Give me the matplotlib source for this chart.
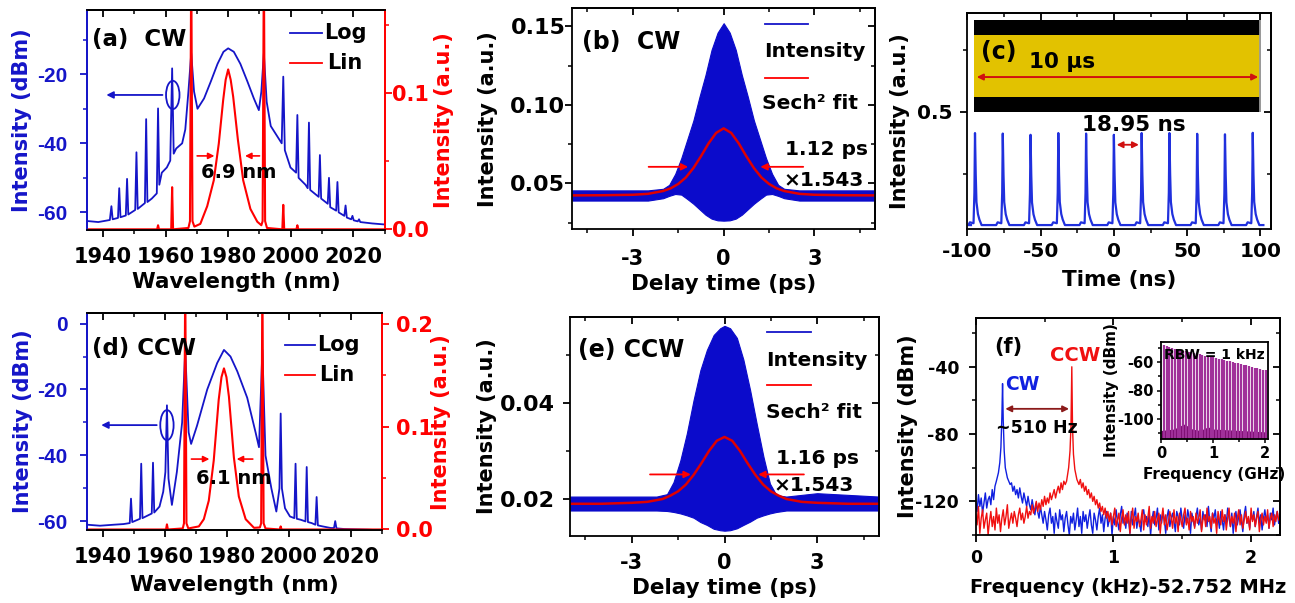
import numpy as np
import matplotlib.pyplot as plt
from matplotlib.patches import Ellipse
from matplotlib.ticker import MultipleLocator

# ---------------- data ----------------
# (a) CW optical spectrum: log trace (dBm) and linear trace (a.u.)
a_log = [(1935.0, -62.5), (1938.5, -62.8), (1942.2, -62.2), (1942.7, -58.2), (1943.1, -62.0),
         (1944.8, -61.6), (1945.2, -53.0), (1945.6, -61.4), (1947.3, -60.9), (1947.7, -50.3),
         (1948.1, -60.6), (1950.3, -59.3), (1950.7, -42.6), (1951.1, -59.0), (1953.4, -57.3),
         (1953.8, -33.0), (1954.2, -57.0), (1955.6, -56.0), (1957.2, -54.5), (1957.6, -29.9),
         (1958.0, -52.0), (1958.8, -48.5), (1960.4, -47.0), (1961.5, -45.0), (1962.1, -18.3),
         (1962.6, -43.0), (1963.4, -41.5), (1965.3, -40.0), (1966.3, -36.0), (1967.3, -25.0),
         (1968.2, -14.0), (1969.1, -25.0), (1970.2, -30.0), (1972.3, -27.0), (1974.5, -22.0),
         (1976.6, -17.0), (1978.5, -13.5), (1980.0, -12.5), (1981.8, -13.5), (1983.9, -17.0),
         (1986.1, -22.0), (1988.2, -27.0), (1989.8, -30.4), (1990.6, -25.0), (1991.4, -14.0),
         (1992.3, -28.0), (1993.6, -35.0), (1995.7, -38.0), (1997.1, -40.0), (1997.6, -20.7),
         (1998.1, -42.0), (1999.9, -47.0), (2001.7, -48.5), (2002.1, -31.8), (2002.5, -50.0),
         (2004.7, -52.0), (2005.4, -53.0), (2005.8, -34.0), (2006.2, -53.5), (2008.9, -55.5),
         (2009.3, -43.4), (2009.7, -56.0), (2011.8, -57.5), (2012.2, -50.0), (2012.6, -58.5),
         (2014.5, -59.5), (2014.9, -51.2), (2015.3, -60.0), (2017.1, -61.0), (2017.5, -58.0),
         (2017.9, -61.5), (2019.3, -62.0), (2019.7, -61.0), (2020.1, -62.3), (2021.4, -62.6),
         (2021.8, -62.0), (2022.2, -62.8), (2026.0, -63.2), (2030.0, -63.5)]
a_lin = [(1935.0, 0.0), (1957.3, 0.0), (1957.6, 0.003), (1957.9, 0.0), (1961.8, 0.0),
         (1962.1, 0.031), (1962.4, 0.0), (1967.3, 0.001), (1967.8, 0.006), (1968.2, 0.2),
         (1968.6, 0.006), (1969.2, 0.002), (1971.1, 0.004), (1973.3, 0.017), (1975.4, 0.036),
         (1977.0, 0.063), (1978.4, 0.095), (1979.2, 0.110), (1980.0, 0.1176), (1980.8, 0.110),
         (1981.6, 0.0975), (1983.1, 0.066), (1984.8, 0.036), (1987.1, 0.015), (1989.3, 0.0056),
         (1990.6, 0.003), (1991.0, 0.006), (1991.4, 0.2), (1991.8, 0.006), (1992.4, 0.001),
         (1997.3, 0.0), (1997.6, 0.018), (1997.9, 0.0), (2001.8, 0.0), (2002.1, 0.003),
         (2002.4, 0.0), (2030.0, 0.0)]

# (d) CCW optical spectrum
d_log = [(1935.0, -61.0), (1939.1, -61.3), (1943.5, -61.0), (1946.7, -60.8), (1948.7, -60.5),
         (1949.1, -53.1), (1949.5, -60.2), (1952.0, -59.2), (1952.4, -42.5), (1952.8, -59.0),
         (1955.8, -57.6), (1956.2, -42.2), (1956.6, -57.3), (1958.3, -55.5), (1959.5, -51.0),
         (1960.2, -45.0), (1960.7, -24.8), (1961.2, -47.0), (1962.3, -55.0), (1963.9, -45.0),
         (1965.6, -30.0), (1966.6, -8.0), (1967.7, -33.0), (1968.5, -36.5), (1970.4, -31.0),
         (1973.7, -20.0), (1976.9, -12.0), (1979.1, -8.0), (1981.2, -10.0), (1983.4, -14.5),
         (1986.6, -22.5), (1989.3, -33.0), (1990.4, -37.5), (1991.5, -8.0), (1992.5, -40.0),
         (1994.4, -50.0), (1996.0, -57.0), (1997.0, -50.0), (1997.4, -27.3), (1997.8, -50.0),
         (1998.8, -56.0), (2000.4, -58.5), (2001.8, -59.0), (2002.2, -42.5), (2002.6, -59.2),
         (2003.9, -59.5), (2005.4, -60.0), (2005.8, -43.5), (2006.2, -60.2), (2007.4, -60.5),
         (2008.6, -61.0), (2009.0, -52.6), (2009.4, -61.2), (2010.9, -61.5), (2013.6, -62.0),
         (2014.6, -62.0), (2015.0, -59.9), (2015.4, -62.1), (2017.9, -62.3), (2025.4, -62.5),
         (2030.0, -62.7)]
d_lin = [(1935.0, 0.0), (1960.4, 0.0), (1960.7, 0.005), (1961.0, 0.0), (1965.8, 0.001),
         (1966.2, 0.006), (1966.6, 0.25), (1967.0, 0.006), (1967.6, 0.001), (1971.0, 0.003),
         (1972.6, 0.010), (1974.2, 0.028), (1975.8, 0.067), (1977.4, 0.126), (1978.3, 0.148),
         (1979.1, 0.1565), (1979.9, 0.148), (1980.7, 0.129), (1982.3, 0.070), (1983.9, 0.032),
         (1986.1, 0.010), (1988.8, 0.0016), (1990.7, 0.002), (1991.1, 0.006), (1991.5, 0.25),
         (1991.9, 0.006), (1992.5, 0.001), (1997.1, 0.0), (1997.4, 0.003), (1997.7, 0.0),
         (2030.0, 0.0)]

# (b) CW autocorrelation: fringe envelope + sech^2 fit
b_t = [-5, -2.5, -2.0, -1.8, -1.6, -1.4, -1.2, -1.0, -0.8, -0.6, -0.4, -0.2, 0,
       0.2, 0.4, 0.6, 0.8, 1.0, 1.2, 1.4, 1.6, 1.8, 2.0, 2.5, 5]
b_upper = [0.0455, 0.0455, 0.0465, 0.049, 0.056, 0.066, 0.078, 0.090, 0.105, 0.119, 0.135, 0.146, 0.152,
           0.146, 0.135, 0.119, 0.105, 0.090, 0.078, 0.066, 0.056, 0.049, 0.0465, 0.0455, 0.0455]
b_lower = [0.039, 0.039, 0.0405, 0.042, 0.0432, 0.0428, 0.040, 0.037, 0.0335, 0.030, 0.0275, 0.0264, 0.0262,
           0.0264, 0.0275, 0.030, 0.0335, 0.037, 0.040, 0.0428, 0.0432, 0.042, 0.0405, 0.039, 0.039]
b_fit_t = [-5, -4, -3, -2.5, -2, -1.75, -1.5, -1.25, -1, -0.75, -0.5, -0.25, 0,
           0.25, 0.5, 0.75, 1, 1.25, 1.5, 1.75, 2, 2.5, 3, 4, 5]
b_fit = [0.0423, 0.0424, 0.0427, 0.0433, 0.0451, 0.0468, 0.0496, 0.0537, 0.0597, 0.0672, 0.0754, 0.0821, 0.0850,
         0.0821, 0.0754, 0.0672, 0.0597, 0.0537, 0.0496, 0.0468, 0.0451, 0.0433, 0.0427, 0.0424, 0.0423]

# (e) CCW autocorrelation
e_t = [-5, -2.2, -1.86, -1.65, -1.43, -1.22, -1.0, -0.78, -0.57, -0.35, -0.14, 0,
       0.18, 0.4, 0.61, 0.83, 1.04, 1.26, 1.47, 1.68, 2.0, 3.0, 5]
e_upper = [0.0205, 0.0205, 0.021, 0.0235, 0.028, 0.0336, 0.0406, 0.0468, 0.051, 0.0541, 0.0555, 0.056,
           0.0555, 0.0535, 0.049, 0.0426, 0.0357, 0.0288, 0.0232, 0.0208, 0.0205, 0.0212, 0.0205]
e_lower = [0.0176, 0.0176, 0.0175, 0.0173, 0.0170, 0.0166, 0.0161, 0.0152, 0.0146, 0.0138, 0.0135, 0.0134,
           0.0135, 0.0139, 0.0146, 0.0153, 0.0161, 0.0166, 0.0170, 0.0173, 0.0176, 0.0176, 0.0176]
e_fit_t = b_fit_t
e_fit = [0.0190, 0.0190, 0.0192, 0.0194, 0.0200, 0.0207, 0.0216, 0.0230, 0.0250, 0.0274, 0.0300, 0.0321, 0.0329,
         0.0321, 0.0300, 0.0274, 0.0250, 0.0230, 0.0216, 0.0207, 0.0200, 0.0194, 0.0192, 0.0190, 0.0190]

# (c) pulse train
c_pulse_t = [-94.75, -75.8, -56.85, -37.9, -18.95, 0.0, 18.95, 37.9, 56.85, 75.8, 94.75]
c_pulse_peak = [0.415, 0.413, 0.408, 0.415, 0.413, 0.408, 0.415, 0.415, 0.412, 0.410, 0.416]
c_base = 0.045
c_shape_dt = [-4.5, -3.5, -1.0, -0.4, 0.0, 0.5, 1.0, 2.0, 3.0, 4.5]
c_shape_lvl = [0.0, 0.03, 0.02, 0.35, 1.0, 0.55, 0.25, 0.12, 0.06, 0.0]
c_span = (-97.5, 102.0)

# (f) RF spectra, kHz offset from 52.752 MHz, sampled every 10 Hz
f_grid = np.round(np.arange(0, 2.2001, 0.01), 2)
cw_floor = [-120, -126, -116, -123, -118, -127, -121, -115, -124, -119,
            -117, -122, -113, -119, -111, -108, -104, -100, -95, -90,
            -95, -100, -104, -108, -110, -112, -109, -114, -111, -116,
            -113, -118, -112, -117, -121, -115, -119, -123, -117, -122,
            -125, -119, -124, -128, -121, -126, -130, -123, -128, -133,
            -126, -131, -137, -128, -124, -133, -129, -139, -127, -132,
            -136, -125, -131, -128, -138, -130, -126, -134, -140, -129,
            -133, -127, -137, -131, -124, -135, -129, -139, -126, -132,
            -128, -136, -130, -125, -134, -139, -127, -131, -137, -129,
            -124, -133, -128, -138, -130, -126, -135, -131, -127, -140,
            -129, -134, -125, -132, -137, -128, -123, -133, -130, -136,
            -127, -131, -139, -126, -134, -129, -124, -136, -130, -133,
            -138, -128, -125, -132, -129, -135, -127, -140, -131, -126,
            -134, -130, -124, -137, -128, -133, -126, -131, -139, -129,
            -125, -135, -130, -127, -132, -138, -126, -129, -134, -124,
            -131, -136, -128, -133, -125, -130, -139, -127, -132, -135,
            -129, -124, -134, -130, -137, -126, -131, -128, -135, -123,
            -132, -138, -127, -130, -125, -134, -129, -136, -126, -131,
            -137, -128, -133, -124, -130, -135, -127, -139, -131, -126,
            -134, -129, -125, -132, -138, -128, -123, -133, -130, -136,
            -127, -131, -126, -135, -129, -124, -133, -128, -137, -130,
            -125, -132, -128, -136, -127, -131, -124, -134, -129, -126, -133]
cw_peak = [(0.15, -108), (0.165, -103), (0.175, -97), (0.183, -88), (0.19, -70), (0.195, -50),
           (0.20, -72), (0.207, -90), (0.215, -100), (0.23, -106), (0.25, -110)]
ccw_floor = [-128, -134, -123, -139, -130, -125, -136, -131, -127, -140,
             -132, -126, -135, -129, -137, -124, -133, -128, -138, -130,
             -125, -134, -129, -122, -136, -131, -127, -133, -126, -130,
             -135, -128, -124, -131, -127, -133, -129, -123, -130, -126,
             -128, -122, -127, -124, -120, -126, -121, -125, -119, -123,
             -117, -122, -118, -121, -115, -119, -116, -113, -118, -114,
             -111, -115, -109, -113, -108, -110, -105, -100, -95, -90,
             -95, -100, -104, -106, -108, -110, -107, -112, -109, -114,
             -111, -116, -113, -118, -115, -120, -117, -122, -119, -124,
             -121, -126, -123, -128, -124, -130, -126, -132, -127, -134,
             -129, -124, -135, -131, -127, -138, -130, -125, -134, -128,
             -133, -126, -139, -130, -124, -136, -129, -132, -127, -135,
             -131, -125, -137, -128, -134, -130, -123, -136, -129, -133,
             -126, -135, -131, -127, -139, -130, -124, -134, -128, -137,
             -132, -126, -130, -136, -125, -133, -129, -138, -127, -131,
             -135, -128, -124, -134, -130, -137, -126, -132, -129, -136,
             -127, -133, -130, -125, -138, -131, -128, -135, -124, -132,
             -129, -136, -127, -133, -130, -139, -126, -131, -134, -125,
             -132, -128, -137, -130, -124, -135, -129, -133, -127, -138,
             -130, -125, -134, -128, -136, -131, -126, -133, -129, -137,
             -124, -132, -128, -135, -130, -126, -138, -131, -127, -134,
             -129, -133, -125, -136, -130, -127, -135, -128, -132, -126, -131]
ccw_peak = [(0.66, -108), (0.675, -100), (0.685, -90), (0.692, -75), (0.698, -40),
            (0.703, -75), (0.71, -92), (0.72, -101), (0.735, -107)]

# (f) inset: comb lines every 52.752 MHz, peak levels and floor
f_rep_ghz = 0.052752
comb_db = [-48.3, -48.8, -49.5, -50.0, -50.6, -51.1, -51.5, -52.0, -52.4, -52.9,
           -53.3, -53.8, -54.2, -54.6, -55.1, -55.5, -55.9, -56.3, -56.8, -57.2,
           -57.6, -58.1, -58.5, -59.0, -59.4, -59.9, -60.4, -60.9, -61.4, -61.9,
           -62.4, -62.9, -63.4, -63.9, -64.4, -64.9, -65.4, -65.8]
floor_f = [0, 0.25, 0.35, 0.45, 0.6, 0.75, 0.9, 1.0, 1.5, 2.0]
floor_db = [-108, -107, -105, -103.5, -107, -108, -105.5, -107, -108, -109]

# ---------------- style ----------------
plt.rcParams['font.family'] = ['DejaVu Sans']
plt.rcParams['font.weight'] = 'bold'
plt.rcParams['axes.labelweight'] = 'bold'
plt.rcParams['font.size'] = 15
plt.rcParams['axes.unicode_minus'] = False
plt.rcParams['axes.linewidth'] = 1.3

BLUE = '#1515C8'
FILLBLUE = '#0B0BCB'
RED = '#FF0000'

W, H = 1295, 603
fig = plt.figure(figsize=(W / 100, H / 100), dpi=100)


def px_axes(l, t, r, b):
    return fig.add_axes([l / W, 1 - b / H, (r - l) / W, (b - t) / H])


def set_ticks(ax, xmaj, xmin, ymaj, ymin, size=15, xpad=3, ypad=3):
    ax.xaxis.set_major_locator(MultipleLocator(xmaj))
    ax.xaxis.set_minor_locator(MultipleLocator(xmin))
    ax.yaxis.set_major_locator(MultipleLocator(ymaj))
    ax.yaxis.set_minor_locator(MultipleLocator(ymin))
    ax.tick_params(which='both', direction='out', labelsize=size)
    ax.tick_params(axis='x', which='both', pad=xpad)
    ax.tick_params(axis='y', which='both', pad=ypad)
    ax.tick_params(which='major', length=5, width=1.3)
    ax.tick_params(which='minor', length=3, width=1.1)


def mirror(ax, xmaj, xmin, ymaj=None, ymin=None):
    sx = ax.secondary_xaxis('top')
    sx.xaxis.set_major_locator(MultipleLocator(xmaj))
    sx.xaxis.set_minor_locator(MultipleLocator(xmin))
    sx.tick_params(which='both', direction='in', labeltop=False)
    sx.tick_params(which='major', length=5, width=1.3)
    sx.tick_params(which='minor', length=3, width=1.1)
    if ymaj is not None:
        sy = ax.secondary_yaxis('right')
        sy.yaxis.set_major_locator(MultipleLocator(ymaj))
        sy.yaxis.set_minor_locator(MultipleLocator(ymin))
        sy.tick_params(which='both', direction='in', labelright=False)
        sy.tick_params(which='major', length=5, width=1.3)
        sy.tick_params(which='minor', length=3, width=1.1)


def labels(ax, xl, yl, xy, yx, ycolor='k', xs=15.5, ys=15):
    ax.set_xlabel(xl, fontsize=xs, va='center')
    ax.xaxis.set_label_coords(0.5, xy)
    ax.set_ylabel(yl, fontsize=ys, va='center', color=ycolor)
    ax.yaxis.set_label_coords(yx, 0.5)


def spectrum_panel(rect, log, lin, ylim_l, ylim_r, rpad, xly, tag, fwhm, arr, txt, ell, leg):
    ax = px_axes(*rect)
    ax2 = ax.twinx()
    wl, db = np.array(log).T
    ax.plot(wl, db, color=BLUE, lw=1.3)
    wl2, li = np.array(lin).T
    ax2.plot(wl2, li, color=RED, lw=1.5)
    ax.set_xlim(1935, 2030)
    ax.set_ylim(*ylim_l)
    ax2.set_ylim(*ylim_r)
    set_ticks(ax, 20, 10, 20, 10, xpad=7, ypad=9)
    ax.tick_params(axis='y', which='both', colors=BLUE, labelsize=15,
                   labelfontfamily='Liberation Sans')
    ax2.yaxis.set_major_locator(MultipleLocator(0.1))
    ax2.yaxis.set_minor_locator(MultipleLocator(0.05))
    ax2.tick_params(which='both', direction='out', colors=RED, pad=rpad, labelsize=15)
    ax2.tick_params(which='major', length=5, width=1.3)
    ax2.tick_params(which='minor', length=3, width=1.1)
    for a in (ax, ax2):
        a.spines['left'].set_color(BLUE)
        a.spines['right'].set_color(RED)
    mirror(ax, 20, 10)
    labels(ax, 'Wavelength (nm)', 'Intensity (dBm)', xly, -0.218, BLUE)
    ax2.set_ylabel('Intensity (a.u.)', fontsize=15, color=RED, va='center')
    ax2.yaxis.set_label_coords(1.2, 0.5)
    # FWHM arrows and text on linear axis
    ax2.annotate('', xy=(arr[1], arr[4]), xytext=(arr[0], arr[4]),
                 arrowprops=dict(arrowstyle='-|>', color=RED, lw=1.2, mutation_scale=9))
    ax2.annotate('', xy=(arr[2], arr[4]), xytext=(arr[3], arr[4]),
                 arrowprops=dict(arrowstyle='-|>', color=RED, lw=1.2, mutation_scale=9))
    ax2.text(txt[0], txt[1], fwhm, fontsize=14, ha='center', va='center')
    # circle pointing to left axis
    ax.add_patch(Ellipse((ell[0], ell[1]), ell[2], ell[3], fill=False, ec=BLUE, lw=1.3))
    ax.annotate('', xy=(ell[5], ell[1]), xytext=(ell[4], ell[1]),
                arrowprops=dict(arrowstyle='-|>', color=BLUE, lw=1.3, mutation_scale=10))
    ax2.text(0.015, leg[4], tag, transform=ax2.transAxes, fontsize=16.5, va='center', ha='left')
    ax2.plot([leg[0], leg[1]], [leg[2], leg[2]], color=BLUE, lw=1.3, transform=ax2.transAxes)
    ax2.plot([leg[0], leg[1]], [leg[3], leg[3]], color=RED, lw=1.3, transform=ax2.transAxes)
    ax2.text(leg[1] + 0.005, leg[2], 'Log', transform=ax2.transAxes, fontsize=15, va='center')
    ax2.text(leg[1] + 0.015, leg[3], 'Lin', transform=ax2.transAxes, fontsize=15, va='center')
    return ax, ax2


# (a)
spectrum_panel((87.3, 10, 384.7, 230), a_log, a_lin, (-65.1, -1.4), (-0.0005, 0.1613), 0.5, -0.235,
               '(a)  CW', '6.9 nm', (1969.2, 1976.5, 1984.5, 1990.9, 0.054), (1983.4, 0.0417),
               (1962.3, -26, 4.3, 8.2, 1959.9, 1940.2), (0.683, 0.79, 0.894, 0.758, 0.864))
# (d)
spectrum_panel((87.3, 313.3, 381.7, 530), d_log, d_lin, (-62.6, 3.1), (-0.0005, 0.21), 5, -0.252,
               '(d) CCW', '6.1 nm', (1967.7, 1975.3, 1982.3, 1989.3, 0.0684), (1982.3, 0.05),
               (1960.7, -30.8, 4.3, 9.1, 1958.3, 1938.6), (0.672, 0.774, 0.853, 0.714, 0.837))


def autocorr_panel(rect, t, up, lo, ft, fv, ylim, ymaj, ymin, pads, tag, width, arr_y, arr, pos):
    ax = px_axes(*rect)
    ax.fill_between(t, lo, up, color=FILLBLUE, lw=0.8, ec=FILLBLUE)
    ax.plot(ft, fv, color='#E00000', lw=1.8)
    ax.set_xlim(-5, 5)
    ax.set_ylim(*ylim)
    set_ticks(ax, 3, 1.5, ymaj, ymin, xpad=pads[0], ypad=pads[1])
    ax.tick_params(axis='y', labelsize=16)
    mirror(ax, 3, 1.5, ymaj, ymin)
    labels(ax, 'Delay time (ps)', 'Intensity (a.u.)', pos['xl'], pos['yl'])
    ax.annotate('', xy=(arr[1], arr_y), xytext=(arr[0], arr_y),
                arrowprops=dict(arrowstyle='-|>', color=RED, lw=1.3, mutation_scale=10))
    ax.annotate('', xy=(arr[2], arr_y), xytext=(arr[3], arr_y),
                arrowprops=dict(arrowstyle='-|>', color=RED, lw=1.3, mutation_scale=10))
    tr = ax.transAxes
    ax.text(pos['tag'][0], pos['tag'][1], tag, transform=tr, fontsize=17, va='center')
    ax.plot([0.637, 0.78], [pos['l1'], pos['l1']], color=BLUE, lw=1.3, transform=tr)
    ax.plot([0.637, 0.78], [pos['l2'], pos['l2']], color=RED, lw=1.3, transform=tr)
    ax.text(pos['t1'][0], pos['t1'][1], 'Intensity', transform=tr, fontsize=14.5, ha='center', va='center')
    ax.text(pos['t2'][0], pos['t2'][1], 'Sech\u00b2 fit', transform=tr, fontsize=14.5, ha='center', va='center')
    ax.text(pos['w'][0], pos['w'][1], width, transform=tr, fontsize=14.5, ha='center', va='center')
    ax.text(pos['m'][0], pos['m'][1], '\u00d71.543', transform=tr, fontsize=14.5, ha='center', va='center')
    return ax


# (b)
autocorr_panel((572.3, 8.3, 875, 229.3), b_t, b_upper, b_lower, b_fit_t, b_fit,
               (0.0207, 0.1615), 0.05, 0.025, (9, 0), '(b)  CW', '1.12 ps', 0.0605,
               (-2.57, -1.08, 1.12, 2.72),
               dict(xl=-0.248, yl=-0.279, tag=(0.031, 0.849), l1=0.929, l2=0.683,
                    t1=(0.802, 0.804), t2=(0.785, 0.57), w=(0.84, 0.359), m=(0.829, 0.223)))
# (e)
autocorr_panel((570, 316.7, 879, 536), e_t, e_upper, e_lower, e_fit_t, e_fit,
               (0.0123, 0.0579), 0.02, 0.01, (7, 6), '(e) CCW', '1.16 ps', 0.0251,
               (-2.5, -1.0, 1.0, 2.66),
               dict(xl=-0.238, yl=-0.269, tag=(0.026, 0.85), l1=0.93, l2=0.69,
                    t1=(0.80, 0.80), t2=(0.79, 0.565), w=(0.80, 0.355), m=(0.79, 0.23)))

# (c) pulse train
axc = px_axes(967.3, 12.7, 1270.7, 229.3)
ct = [c_span[0]]
cy = [c_base]
for p, pk in zip(c_pulse_t, c_pulse_peak):
    for dt, lv in zip(c_shape_dt, c_shape_lvl):
        ct.append(p + dt)
        cy.append(c_base + lv * (pk - c_base))
ct.append(c_span[1])
cy.append(c_base)
axc.plot(ct, cy, color='#2030DD', lw=1.6)
axc.set_xlim(-100, 107)
axc.set_ylim(0.028, 0.899)
set_ticks(axc, 50, 25, 0.5, 0.25, size=14.5, xpad=4, ypad=6)
mirror(axc, 50, 25, 0.5, 0.25)
labels(axc, 'Time (ns)', 'Intensity (a.u.)', -0.234, -0.222)
axc.annotate('', xy=(0, 0.368), xytext=(18.95, 0.368),
             arrowprops=dict(arrowstyle='<|-|>', color='#D01010', lw=1.3, mutation_scale=9))
axc.text(13.3, 0.449, '18.95 ns', fontsize=15.5, ha='center', va='center')

# (c) inset: oscilloscope trace of 10 us
axi = px_axes(974, 20, 1261, 112)
axi.set_facecolor('black')
axi.fill_between([0, 10], [0.16, 0.16], [0.84, 0.84], color='#E2C200', lw=0)
axi.axvline(9.97, color='#9A9A9A', lw=2)
axi.set_xlim(0, 10)
axi.set_ylim(0, 1)
axi.set_xticks([])
axi.set_yticks([])
for s in axi.spines.values():
    s.set_visible(False)
axi.annotate('', xy=(0.0, 0.38), xytext=(10.0, 0.38),
             arrowprops=dict(arrowstyle='<|-|>', color='#D01010', lw=1.4, mutation_scale=9))
axi.text(0.25, 0.65, '(c)', fontsize=17, va='center')
axi.text(3.07, 0.54, '10 \u03bcs', fontsize=15.5, ha='center', va='center')

# (f) RF spectrum
axf = px_axes(975.7, 318, 1280, 535)


def merge(floor, peak):
    lo, hi = peak[0][0], peak[-1][0]
    pts = [(f, v) for f, v in zip(f_grid, floor) if f < lo or f > hi] + list(peak)
    pts.sort()
    return np.array(pts).T


fx, fy = merge(cw_floor, cw_peak)
axf.plot(fx, fy, color='#1020E0', lw=1.0)
fx, fy = merge(ccw_floor, ccw_peak)
axf.plot(fx, fy, color='#F01010', lw=1.0)
axf.set_xlim(0, 2.21)
axf.set_ylim(-140, -11)
set_ticks(axf, 1, 0.5, 40, 20, size=12.5, xpad=5, ypad=7)
mirror(axf, 1, 0.5, 40, 20)
labels(axf, 'Frequency (kHz)-52.752 MHz', 'Intensity (dBm)', -0.24, -0.222, xs=14)
axf.annotate('', xy=(0.195, -65), xytext=(0.698, -65),
             arrowprops=dict(arrowstyle='<|-|>', color='#8B1A1A', lw=1.3, mutation_scale=9))
axf.text(0.235, -28, '(f)', fontsize=15, ha='center', va='center')
axf.text(0.72, -33, 'CCW', fontsize=14, ha='center', va='center', color='#F01010')
axf.text(0.34, -50.7, 'CW', fontsize=13.5, ha='center', va='center', color='#1020E0')
axf.text(0.445, -76.4, '~510 Hz', fontsize=12.5, ha='center', va='center')

# (f) inset
axn = px_axes(1161, 342, 1268, 439)
comb_f = f_rep_ghz * np.arange(1, len(comb_db) + 1)
axn.fill_between(floor_f, -114, floor_db, color='#7A0A6E', lw=0)
axn.vlines(comb_f, -114, comb_db, color='#A0309A', lw=1.6)
axn.set_xlim(0, 2.05)
axn.set_ylim(-114, -46)
axn.xaxis.set_major_locator(MultipleLocator(1))
axn.xaxis.set_minor_locator(MultipleLocator(0.5))
axn.yaxis.set_major_locator(MultipleLocator(20))
axn.yaxis.set_minor_locator(MultipleLocator(10))
axn.tick_params(which='both', labelsize=10.5, length=3, width=1.1, pad=2)
axn.tick_params(which='minor', length=2)
axn.set_xlabel('Frequency (GHz)', fontsize=11, va='center')
axn.xaxis.set_label_coords(0.5, -0.37)
axn.set_ylabel('Intensity (dBm)', fontsize=11, va='center')
axn.yaxis.set_label_coords(-0.46, 0.5)
axn.text(0.5, 0.866, 'RBW = 1 kHz', transform=axn.transAxes, fontsize=10, ha='center', va='center')

fig.savefig('out.png', dpi=100, facecolor='white')
